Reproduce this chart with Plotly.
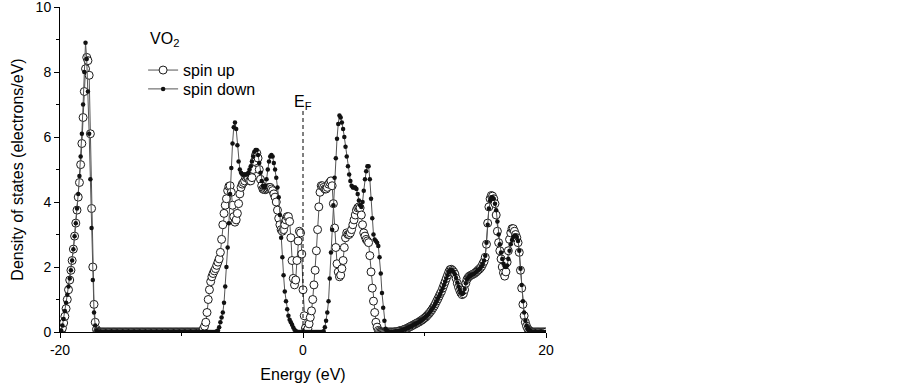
import plotly.graph_objects as go

# Energy grid: -20.0 ... 20.0 eV in 0.1 eV steps (401 points)
E_START = -20.0
E_STEP = 0.1

# Spin-up DOS (electrons/eV), one row per eV: row starts at -20, -19, ..., 19; last value at 20.0
spin_up = [
    0, 0.02, 0.12, 0.28, 0.48, 0.72, 1.0, 1.3, 1.6, 1.9,            # -20
    2.2, 2.55, 2.95, 3.35, 3.75, 4.15, 4.6, 5.15, 5.8, 6.6,         # -19
    7.4, 8.1, 8.45, 8.35, 7.9, 6.1, 3.8, 2.0, 0.85, 0.3,            # -18
    0.08, 0.02, 0, 0, 0, 0, 0, 0, 0, 0,                             # -17
    0, 0, 0, 0, 0, 0, 0, 0, 0, 0,                                   # -16
    0, 0, 0, 0, 0, 0, 0, 0, 0, 0,                                   # -15
    0, 0, 0, 0, 0, 0, 0, 0, 0, 0,                                   # -14
    0, 0, 0, 0, 0, 0, 0, 0, 0, 0,                                   # -13
    0, 0, 0, 0, 0, 0, 0, 0, 0, 0,                                   # -12
    0, 0, 0, 0, 0, 0, 0, 0, 0, 0,                                   # -11
    0, 0, 0, 0, 0, 0, 0, 0, 0, 0,                                   # -10
    0, 0, 0, 0, 0, 0, 0, 0.03, 0.1, 0.18,                           # -9
    0.3, 0.6, 1.0, 1.3, 1.55, 1.7, 1.8, 1.88, 1.95, 2.05,           # -8
    2.15, 2.25, 2.45, 2.85, 3.3, 3.65, 3.9, 4.1, 4.35, 4.48,        # -7
    4.5, 4.3, 3.9, 3.55, 3.38, 3.45, 3.65, 3.95, 4.25, 4.45,        # -6
    4.55, 4.6, 4.65, 4.75, 4.78, 4.72, 4.65, 4.65, 4.75, 5.0,       # -5
    5.25, 5.45, 5.5, 5.35, 5.0, 4.7, 4.5, 4.4, 4.38, 4.38,          # -4
    4.4, 4.42, 4.45, 4.45, 4.4, 4.35, 4.25, 4.15, 4.0, 3.75,        # -3
    3.5, 3.3, 3.15, 3.1, 3.15, 3.3, 3.45, 3.55, 3.55, 3.4,          # -2
    2.9, 2.2, 1.65, 1.45, 1.6, 2.2, 2.8, 3.1, 3.05, 2.4,            # -1
    1.3, 0.5, 0.12, 0.02, 0.1, 0.25, 0.45, 0.65, 1.0, 1.45,         # 0
    1.9, 2.5, 3.15, 3.85, 4.3, 4.5, 4.5, 4.45, 4.4, 4.4,            # 1
    4.45, 4.55, 4.6, 4.65, 4.5, 3.95, 3.2, 2.6, 2.1, 1.85,          # 2
    1.7, 1.75, 1.95, 2.2, 2.6, 2.9, 3.05, 3.0, 3.0, 3.05,           # 3
    3.15, 3.3, 3.45, 3.6, 3.75, 3.82, 3.85, 3.82, 3.6, 3.3,         # 4
    3.05, 2.95, 2.85, 2.8, 2.75, 2.35, 1.85, 1.35, 0.95, 0.6,       # 5
    0.3, 0.15, 0.05, 0.02, 0, 0, 0, 0, 0, 0,                        # 6
    0, 0, 0, 0, 0, 0, 0.01, 0.01, 0.02, 0.03,                       # 7
    0.04, 0.05, 0.06, 0.07, 0.09, 0.1, 0.12, 0.14, 0.16, 0.18,      # 8
    0.2, 0.22, 0.24, 0.26, 0.28, 0.3, 0.32, 0.35, 0.37, 0.4,        # 9
    0.43, 0.46, 0.5, 0.54, 0.58, 0.63, 0.68, 0.74, 0.8, 0.87,       # 10
    0.95, 1.02, 1.1, 1.18, 1.25, 1.35, 1.45, 1.55, 1.65, 1.75,      # 11
    1.85, 1.92, 1.93, 1.9, 1.85, 1.78, 1.65, 1.5, 1.38, 1.28,       # 12
    1.2, 1.15, 1.18, 1.3, 1.5, 1.62, 1.68, 1.72, 1.74, 1.76,        # 13
    1.78, 1.8, 1.83, 1.86, 1.9, 1.93, 1.97, 2.02, 2.1, 2.17,        # 14
    2.3, 2.7, 3.35, 3.85, 4.1, 4.2, 4.18, 4.1, 3.95, 3.6,           # 15
    3.1, 2.75, 2.5, 2.25, 2.0, 1.82, 1.72, 1.85, 2.15, 2.5,         # 16
    2.85, 3.05, 3.18, 3.18, 3.1, 3.0, 2.9, 2.75, 2.45, 1.9,         # 17
    1.35, 0.85, 0.5, 0.3, 0.18, 0.1, 0.05, 0.02, 0, 0,              # 18
    0, 0, 0, 0, 0, 0, 0, 0, 0, 0,                                   # 19
    0,                                                              # 20.0
]

# Spin-down DOS (electrons/eV), same grid
spin_down = [
    0, 0.05, 0.2, 0.4, 0.65, 0.9, 1.15, 1.4, 1.65, 1.9,             # -20
    2.2, 2.55, 2.95, 3.35, 3.8, 4.25, 4.8, 5.4, 6.1, 7.0,           # -19
    8.0, 8.9, 8.4, 7.4, 6.1, 4.7, 3.2, 1.6, 0.6, 0.2,               # -18
    0.05, 0.01, 0, 0, 0, 0, 0, 0, 0, 0,                             # -17
    0, 0, 0, 0, 0, 0, 0, 0, 0, 0,                                   # -16
    0, 0, 0, 0, 0, 0, 0, 0, 0, 0,                                   # -15
    0, 0, 0, 0, 0, 0, 0, 0, 0, 0,                                   # -14
    0, 0, 0, 0, 0, 0, 0, 0, 0, 0,                                   # -13
    0, 0, 0, 0, 0, 0, 0, 0, 0, 0,                                   # -12
    0, 0, 0, 0, 0, 0, 0, 0, 0, 0,                                   # -11
    0, 0, 0, 0, 0, 0, 0, 0, 0, 0,                                   # -10
    0, 0, 0, 0, 0, 0, 0, 0, 0, 0,                                   # -9
    0, 0, 0, 0, 0, 0, 0, 0, 0, 0.02,                                # -8
    0.05, 0.15, 0.3, 0.45, 0.6, 0.9, 1.4, 2.0, 2.6, 3.35,           # -7
    4.25, 5.05, 5.8, 6.3, 6.45, 6.25, 5.75, 5.25, 5.0, 4.9,         # -6
    4.85, 4.85, 4.85, 4.85, 4.85, 4.9, 5.0, 5.1, 5.25, 5.4,         # -5
    5.55, 5.6, 5.6, 5.45, 5.2, 4.9, 4.65, 4.5, 4.45, 4.5,           # -4
    4.7, 5.0, 5.25, 5.4, 5.45, 5.4, 5.2, 5.0, 4.75, 4.45,           # -3
    4.15, 3.6, 2.9, 2.3, 1.75, 1.25, 0.95, 0.7, 0.5, 0.38,          # -2
    0.3, 0.22, 0.14, 0.07, 0.03, 0.01, 0, 0, 0, 0,                  # -1
    0, 0, 0, 0, 0, 0, 0, 0, 0, 0,                                   # 0
    0, 0, 0, 0, 0, 0, 0, 0.02, 0.15, 0.35,                          # 1
    0.6, 0.95, 1.65, 2.45, 3.15, 3.9, 4.75, 5.35, 5.95, 6.4,        # 2
    6.66, 6.6, 6.45, 6.25, 6.0, 5.7, 5.4, 5.1, 4.85, 4.65,          # 3
    4.5, 4.45, 4.45, 4.45, 4.4, 4.25, 4.05, 3.9, 3.85, 4.0,         # 4
    4.35, 4.7, 4.95, 5.1, 5.1, 4.7, 4.1, 3.5, 3.0, 2.85,            # 5
    2.8, 2.75, 2.65, 2.3, 1.8, 1.2, 0.75, 0.35, 0.1, 0.02,          # 6
    0, 0, 0, 0, 0, 0, 0.01, 0.01, 0.02, 0.03,                       # 7
    0.04, 0.05, 0.06, 0.08, 0.09, 0.11, 0.12, 0.14, 0.16, 0.18,     # 8
    0.2, 0.22, 0.24, 0.26, 0.28, 0.3, 0.33, 0.35, 0.38, 0.41,       # 9
    0.44, 0.47, 0.5, 0.54, 0.59, 0.64, 0.69, 0.75, 0.81, 0.88,      # 10
    0.95, 1.03, 1.1, 1.18, 1.26, 1.35, 1.45, 1.55, 1.65, 1.75,      # 11
    1.84, 1.9, 1.92, 1.9, 1.85, 1.78, 1.66, 1.52, 1.4, 1.3,         # 12
    1.22, 1.17, 1.2, 1.32, 1.5, 1.62, 1.68, 1.72, 1.74, 1.76,       # 13
    1.78, 1.8, 1.83, 1.86, 1.9, 1.93, 1.97, 2.02, 2.1, 2.2,         # 14
    2.35, 2.75, 3.3, 3.8, 4.05, 4.15, 4.15, 4.1, 3.95, 3.75,        # 15
    3.4, 3.0, 2.7, 2.45, 2.25, 2.1, 2.02, 2.0, 2.05, 2.25,          # 16
    2.5, 2.7, 2.83, 2.92, 2.97, 2.97, 2.92, 2.8, 2.5, 1.95,         # 17
    1.45, 0.95, 0.6, 0.35, 0.2, 0.11, 0.06, 0.03, 0.01, 0,          # 18
    0, 0, 0, 0, 0, 0, 0, 0, 0, 0,                                   # 19
    0,                                                              # 20.0
]

assert len(spin_up) == 401 and len(spin_down) == 401
energy = [round(E_START + E_STEP * i, 1) for i in range(len(spin_up))]

FONT = "Liberation Sans, Arial, sans-serif"

fig = go.Figure()
fig.add_trace(go.Scatter(
    x=energy, y=spin_up, mode="lines+markers", name="spin up", legend="legend",
    line=dict(color="#555555", width=1),
    marker=dict(symbol="circle", size=8, color="white",
                line=dict(color="#1a1a1a", width=1)),
))
fig.add_trace(go.Scatter(
    x=energy, y=spin_down, mode="lines+markers", name="spin down", legend="legend2",
    line=dict(color="#555555", width=1),
    marker=dict(symbol="circle", size=4.5, color="#111111",
                line=dict(width=0)),
))

# Fermi level marker
fig.add_shape(type="line", xref="x", yref="y", x0=0, x1=0, y0=0, y1=6.8,
              line=dict(color="black", width=1, dash="4px,3px"))
fig.add_annotation(x=0, y=7.05, xref="x", yref="y", text="E<sub>F</sub>",
                   showarrow=False, font=dict(family=FONT, size=16, color="black"),
                   xanchor="center", yanchor="middle")
fig.add_annotation(x=-12.75, y=9.0, xref="x", yref="y", text="VO<sub>2</sub>",
                   showarrow=False, font=dict(family=FONT, size=16, color="black"),
                   xanchor="left", yanchor="middle")

legend_style = dict(xanchor="left", yanchor="top", bgcolor="rgba(0,0,0,0)", borderwidth=0,
                    font=dict(family=FONT, size=16, color="black"), itemsizing="trace")

fig.update_layout(
    width=902, height=386,
    margin=dict(l=60, r=356, t=7, b=54, autoexpand=False),
    paper_bgcolor="white", plot_bgcolor="white",
    font=dict(family=FONT, size=14, color="black"),
    showlegend=True,
    legend=dict(x=0.171, y=0.858, **legend_style),
    legend2=dict(x=0.171, y=0.8, **legend_style),
)
fig.update_xaxes(
    range=[-20, 20], tickvals=[-20, 0, 20], ticktext=["-20", "0", "20"],
    showline=True, linecolor="black", linewidth=1, mirror=False,
    ticks="outside", ticklen=5, tickwidth=1, tickcolor="black",
    minor=dict(tickvals=[-10, 10], ticks="outside", ticklen=3, tickcolor="black", tickwidth=1),
    showgrid=False, zeroline=False, automargin=False, ticklabeloverflow="allow",
    title=dict(text="Energy (eV)", font=dict(family=FONT, size=16), standoff=12),
    tickfont=dict(family=FONT, size=14),
)
fig.update_yaxes(
    range=[0, 10], tickvals=[0, 2, 4, 6, 8, 10],
    showline=True, linecolor="black", linewidth=1, mirror=False,
    ticks="outside", ticklen=5, tickwidth=1, tickcolor="black",
    minor=dict(tickvals=[1, 3, 5, 7, 9], ticks="outside", ticklen=3, tickcolor="black", tickwidth=1),
    showgrid=False, zeroline=False, automargin=False, ticklabeloverflow="allow",
    title=dict(text="Density of states (electrons/eV)", font=dict(family=FONT, size=16), standoff=8),
    tickfont=dict(family=FONT, size=14),
)

fig.write_html("out.html", config={"displayModeBar": False},
               post_script="document.body.style.margin='0';document.body.style.padding='0';")
